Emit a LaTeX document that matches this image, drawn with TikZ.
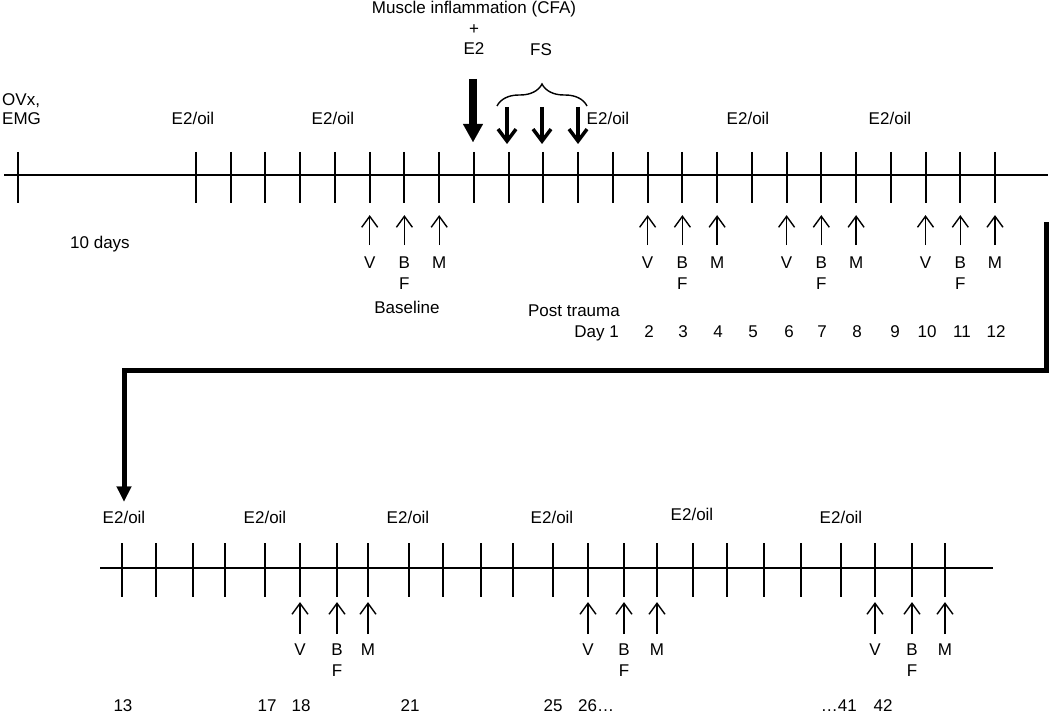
\documentclass[tikz,border=0pt]{standalone}
\usepackage{fontspec}
\setmainfont{Liberation Sans}
\usetikzlibrary{arrows.meta,decorations.pathreplacing}
\begin{document}
\begin{tikzpicture}[x=1bp,y=-1bp,
  every node/.style={font=\fontsize{17bp}{20bp}\selectfont, inner sep=0pt},
  lbl/.style={anchor=base},
  axisline/.style={line width=1.8bp},
  tickline/.style={line width=2bp},
  uparr/.style={line width=1.4bp,-{Straight Barb[length=11bp,width=16bp]}},
  fsarr/.style={line width=3.5bp,-{Straight Barb[length=12bp,width=18bp]}},
  bigarr/.style={line width=8bp,-{Triangle[length=18bp,width=20bp,line width=0.1bp]}},
  conn/.style={line width=5bp,-{Triangle[length=15bp,width=15bp,line width=0.1bp]}},
  bracestyle/.style={line width=1.4bp,decorate,decoration={brace,amplitude=22bp}}
]
\useasboundingbox (0,0) rectangle (1050,716);

% ---------- top timeline ----------
\draw[axisline] (4,175) -- (1048,175);
\draw[tickline] (18,152) -- (18,203);
\foreach \i in {0,...,23} \draw[tickline] ({196+34.74*\i},152) -- ++(0,51);

% top labels
\node[lbl,anchor=base west] (ovx) at (2,106) {OVx,};
\node[lbl,anchor=base west] (emg) at (2,125) {EMG};
\node[lbl] (e2t1) at (193,125) {E2/oil};
\node[lbl] (e2t2) at (333,125) {E2/oil};
\node[lbl] (e2t3) at (608,125) {E2/oil};
\node[lbl] (e2t4) at (748,125) {E2/oil};
\node[lbl] (e2t5) at (890,125) {E2/oil};

\node[lbl] (cfa) at (474,14) {Muscle inflammation (CFA)};
\node[lbl] (plus) at (474,35) {+};
\node[lbl] (e2) at (474,55) {E2};
\node[lbl] (fs) at (541,56) {FS};

% big arrow and FS arrows
\coordinate (bigtop) at (473,79);
\coordinate (bigtip) at (473,142);
\draw[bigarr] (bigtop) -- (bigtip);
\foreach \x [count=\k] in {507,542,578} {
  \coordinate (fstop\k) at (\x,107);
  \coordinate (fstip\k) at (\x,144);
  \draw[fsarr] (fstop\k) -- (fstip\k);
}
\coordinate (brl) at (497,106);
\coordinate (brr) at (587,106);
\draw[bracestyle] (brl) -- (brr);

% up arrows top row
\foreach \x [count=\k] in {369.7,647.6,786.6,925.5} {
  \node[lbl] (tv\k) at (\x,268) {V};
  \draw[uparr] (tv\k.north) ++(0,-11) -- ++(0,-30);
}
\foreach \x [count=\k] in {404.4,682.4,821.3,960.3} {
  \node[lbl] (tb\k) at (\x,268) {B};
  \node[lbl] (tf\k) at (\x,289) {F};
  \draw[uparr] (tb\k.north) ++(0,-11) -- ++(0,-30);
}
\foreach \x [count=\k] in {439.2,717.1,856.1,995.0} {
  \node[lbl] (tm\k) at (\x,268) {M};
  \draw[uparr] (tm\k.north) ++(0,-11) -- ++(0,-30);
}

\node[lbl] (tendays) at (100,248) {10 days};
\node[lbl] (baseline) at (407,313) {Baseline};
\node[lbl,anchor=base east] (post) at (620,316) {Post trauma};
\node[lbl,anchor=base east] (day1) at (619,337) {Day 1};
\foreach \x/\t in {649/2,683/3,718/4,753/5,789/6,822/7,857/8,895/9,927/10,962/11,996/12}
  \node[lbl] (d\t) at (\x,337) {\t};

% ---------- connector ----------
\coordinate (cstart) at (1046,222);
\coordinate (cturn) at (1046,370);

% ---------- bottom timeline ----------
\draw[axisline] (100,568) -- (993,568);
\foreach \x in {122,156,193,225,265,300,337,368,409,443,481,513,553,588,624,657,693,727,764,801,841,875,912,945}
  \draw[tickline] (\x,543) -- (\x,597);

\node[lbl] (e2b1) at (124,523) {E2/oil};
\node[lbl] (e2b2) at (265,523) {E2/oil};
\node[lbl] (e2b3) at (408,523) {E2/oil};
\node[lbl] (e2b4) at (552,523) {E2/oil};
\node[lbl] (e2b5) at (692,520) {E2/oil};
\node[lbl] (e2b6) at (841,523) {E2/oil};

\draw[conn] (cstart) -- (cturn) -| ([yshift=9bp]e2b1.north);

\foreach \x [count=\k] in {300,588,875} {
  \node[lbl] (bv\k) at (\x,655) {V};
  \draw[uparr] (bv\k.north) ++(0,-9) -- ++(0,-32);
}
\foreach \x [count=\k] in {337,624,912} {
  \node[lbl] (bb\k) at (\x,655) {B};
  \node[lbl] (bf\k) at (\x,676) {F};
  \draw[uparr] (bb\k.north) ++(0,-9) -- ++(0,-32);
}
\foreach \x [count=\k] in {368,657,945} {
  \node[lbl] (bm\k) at (\x,655) {M};
  \draw[uparr] (bm\k.north) ++(0,-9) -- ++(0,-32);
}

\node[lbl] (n13) at (123,711) {13};
\node[lbl] (n17) at (267,711) {17};
\node[lbl] (n18) at (301,711) {18};
\node[lbl] (n21) at (410,711) {21};
\node[lbl] (n25) at (553,711) {25};
\node[lbl,anchor=base west] (n26) at (578,711) {26…};
\node[lbl,anchor=base east] (n41) at (857,711) {…41};
\node[lbl] (n42) at (883,711) {42};
\end{tikzpicture}
\end{document}
